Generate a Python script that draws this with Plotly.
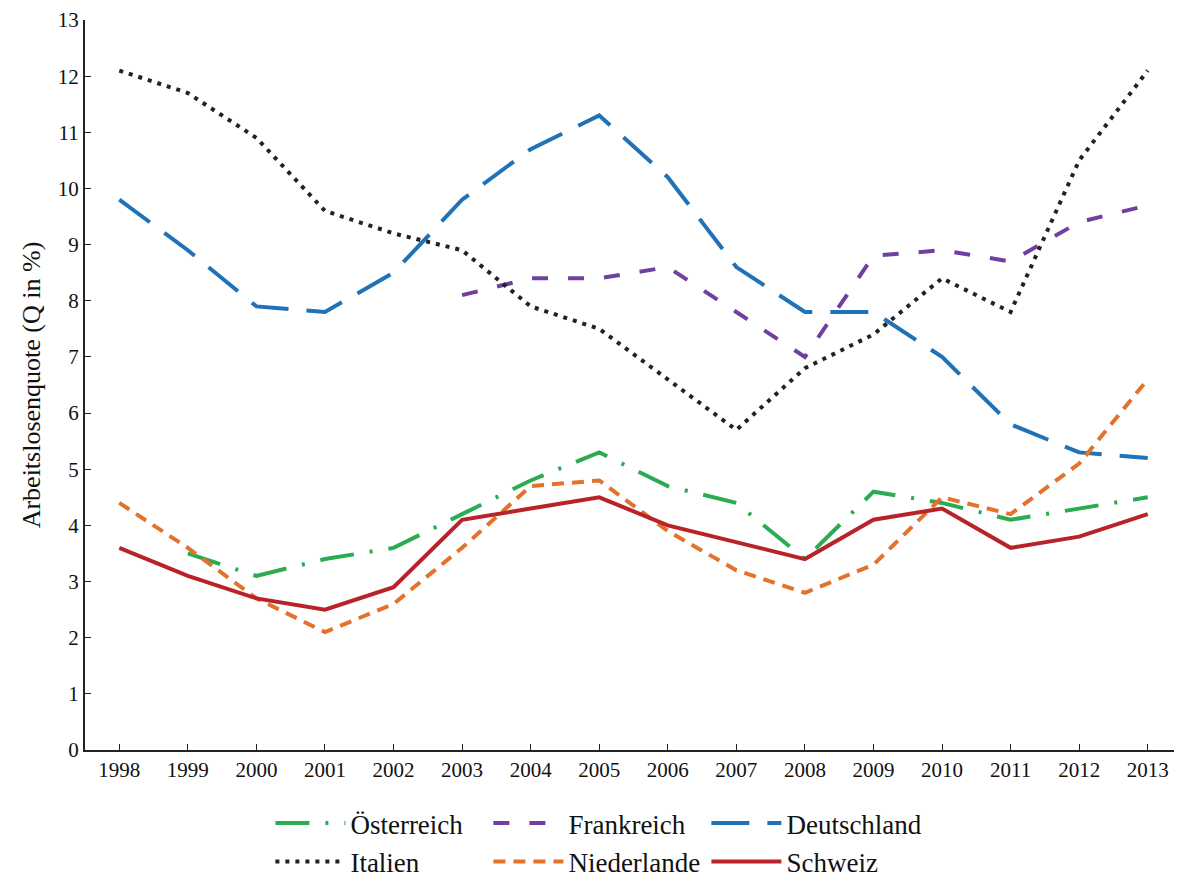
import plotly.graph_objects as go

years = [str(y) for y in range(1998, 2014)]

oesterreich = [None, 3.5, 3.1, 3.4, 3.6, 4.2, 4.8, 5.3, 4.7, 4.4, 3.4, 4.6, 4.4, 4.1, 4.3, 4.5]
frankreich = [None, None, None, None, None, 8.1, 8.4, 8.4, 8.6, 7.8, 7.0, 8.8, 8.9, 8.7, 9.4, 9.7]
deutschland = [9.8, 8.9, 7.9, 7.8, 8.5, 9.8, 10.7, 11.3, 10.2, 8.6, 7.8, 7.8, 7.0, 5.8, 5.3, 5.2]
italien = [12.1, 11.7, 10.9, 9.6, 9.2, 8.9, 7.9, 7.5, 6.6, 5.7, 6.8, 7.4, 8.4, 7.8, 10.5, 12.1]
niederlande = [4.4, 3.6, 2.7, 2.1, 2.6, 3.6, 4.7, 4.8, 3.9, 3.2, 2.8, 3.3, 4.5, 4.2, 5.1, 6.6]
schweiz = [3.6, 3.1, 2.7, 2.5, 2.9, 4.1, 4.3, 4.5, 4.0, 3.7, 3.4, 4.1, 4.3, 3.6, 3.8, 4.2]

# name, values, colour, dash, legend row
series = [
    ("Österreich", oesterreich, "#2bab52", "34px,16px,3px,16px", "legend"),
    ("Frankreich", frankreich, "#7040a0", "16px,20px", "legend"),
    ("Deutschland", deutschland, "#1f72b8", "38px,18px", "legend"),
    ("Italien", italien, "#222222", "4px,6px", "legend2"),
    ("Niederlande", niederlande, "#e2722c", "12px,8px", "legend2"),
    ("Schweiz", schweiz, "#b8232a", "solid", "legend2"),
]

fig = go.Figure()
for name, vals, color, dash, leg in series:
    fig.add_trace(go.Scatter(
        x=years, y=vals, name=name, mode="lines",
        line=dict(color=color, width=4, dash=dash),
        connectgaps=False, legend=leg,
    ))

legend_style = dict(
    orientation="h", x=0.169, xanchor="left", yanchor="middle", yref="container",
    entrywidth=133, entrywidthmode="pixels", itemwidth=70,
    font=dict(size=27), bgcolor="rgba(0,0,0,0)",
)

fig.update_layout(
    width=1174, height=875,
    margin=dict(l=77, r=0, t=12, b=133),
    plot_bgcolor="white", paper_bgcolor="white",
    font=dict(family="Liberation Serif, Times New Roman, serif", color="#111111", size=21),
    legend=dict(legend_style, y=0.068),
    legend2=dict(legend_style, y=0.024),
)
fig.update_xaxes(
    type="category", range=[-0.5, 15.5],
    showline=True, linecolor="#222222", linewidth=2,
    ticks="inside", ticklen=6, tickcolor="#222222",
    showgrid=False, zeroline=False,
)
fig.update_yaxes(
    range=[0, 13], dtick=1,
    showline=True, linecolor="#222222", linewidth=2,
    ticks="inside", ticklen=6, tickcolor="#222222",
    showgrid=False, zeroline=False,
    title=dict(text="Arbeitslosenquote (Q in %)", font=dict(size=26), standoff=10),
)

fig.write_html("out.html")
